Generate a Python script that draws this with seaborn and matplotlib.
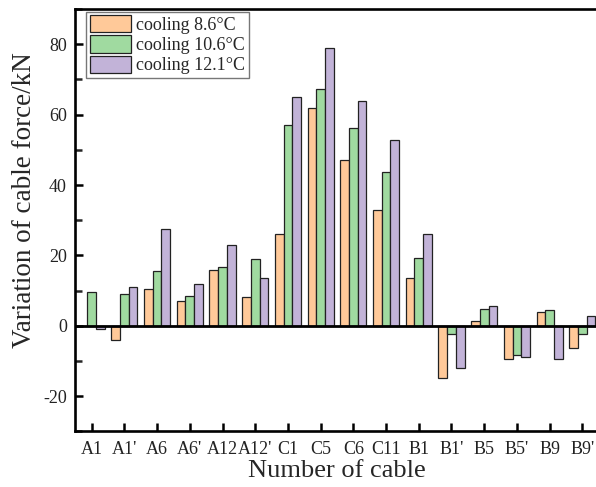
import numpy as np
import pandas as pd
import matplotlib
matplotlib.use("Agg")
import matplotlib.pyplot as plt
import seaborn as sns
from matplotlib.ticker import MultipleLocator

cables = ["A1", "A1'", "A6", "A6'", "A12", "A12'", "C1", "C5", "C6", "C11",
          "B1", "B1'", "B5", "B5'", "B9", "B9'"]
cool_86 = [0.0, -3.9, 10.5, 7.0, 15.8, 8.1, 26.0, 62.0, 47.2, 33.0,
           13.6, -14.8, 1.5, -9.3, 3.8, -6.3]
cool_106 = [9.6, 8.9, 15.5, 8.5, 16.7, 19.1, 57.1, 67.3, 56.2, 43.6,
            19.3, -2.2, 4.9, -8.2, 4.5, -2.2]
cool_121 = [-0.8, 11.1, 27.6, 12.0, 23.0, 13.6, 65.1, 78.9, 63.8, 52.7,
            26.0, -12.0, 5.6, -8.8, -9.3, 2.7]
series = ["cooling 8.6\u00b0C", "cooling 10.6\u00b0C", "cooling 12.1\u00b0C"]
colors = ["#FFC999", "#A0DAA0", "#C2B3D8"]

df = pd.DataFrame({
    "cable": cables * 3,
    "value": cool_86 + cool_106 + cool_121,
    "series": [series[0]] * 16 + [series[1]] * 16 + [series[2]] * 16,
})

sns.set_style("ticks")
plt.rcParams["font.family"] = ["Liberation Serif", "DejaVu Serif"]
plt.rcParams["axes.unicode_minus"] = False

fig = plt.figure(figsize=(5.96, 4.87), dpi=100)
ax_w, ax_h = 523.4, 422.4
ax = fig.add_axes([75.3 / 596, 1 - 431.4 / 487, ax_w / 596, ax_h / 487])

sns.barplot(data=df, x="cable", y="value", hue="series", order=cables,
            hue_order=series, palette=colors, width=0.8, ax=ax,
            edgecolor="#222222", linewidth=0.9, saturation=1, errorbar=None)

ax.set_xlim(-0.5, 15.5)
ax.set_ylim(-30, 90)
ax.yaxis.set_major_locator(MultipleLocator(20))
ax.yaxis.set_minor_locator(MultipleLocator(10))
ax.axhline(0, color="black", lw=2.0, zorder=5)

for s in ["left", "bottom", "top"]:
    ax.spines[s].set_linewidth(1.9)
    ax.spines[s].set_color("black")
ax.spines["right"].set_visible(False)

ax.tick_params(axis="both", which="major", direction="in", length=6, width=1.8,
               labelsize=13, color="black", labelcolor="#222222")
ax.tick_params(axis="y", which="minor", direction="in", length=5, width=1.8)
ax.tick_params(axis="x", which="major", pad=7)
ax.tick_params(axis="y", which="major", pad=6)

ax.set_xlabel("Number of cable", fontsize=19, labelpad=1)
ax.set_ylabel("Variation of cable force/kN", fontsize=19.5)
ax.yaxis.set_label_coords(-38 / ax_w, (431.4 - 200) / ax_h)

leg = ax.legend(loc="upper left", fontsize=13, frameon=True, fancybox=False,
                edgecolor="#555555", handlelength=2.3, handleheight=1.1,
                labelspacing=0.08, handletextpad=0.25, borderpad=0.2,
                borderaxespad=0,
                bbox_to_anchor=(11 / ax_w, 1 - 2.5 / ax_h))
leg.get_frame().set_linewidth(1.0)

fig.savefig("out.png", dpi=100)
